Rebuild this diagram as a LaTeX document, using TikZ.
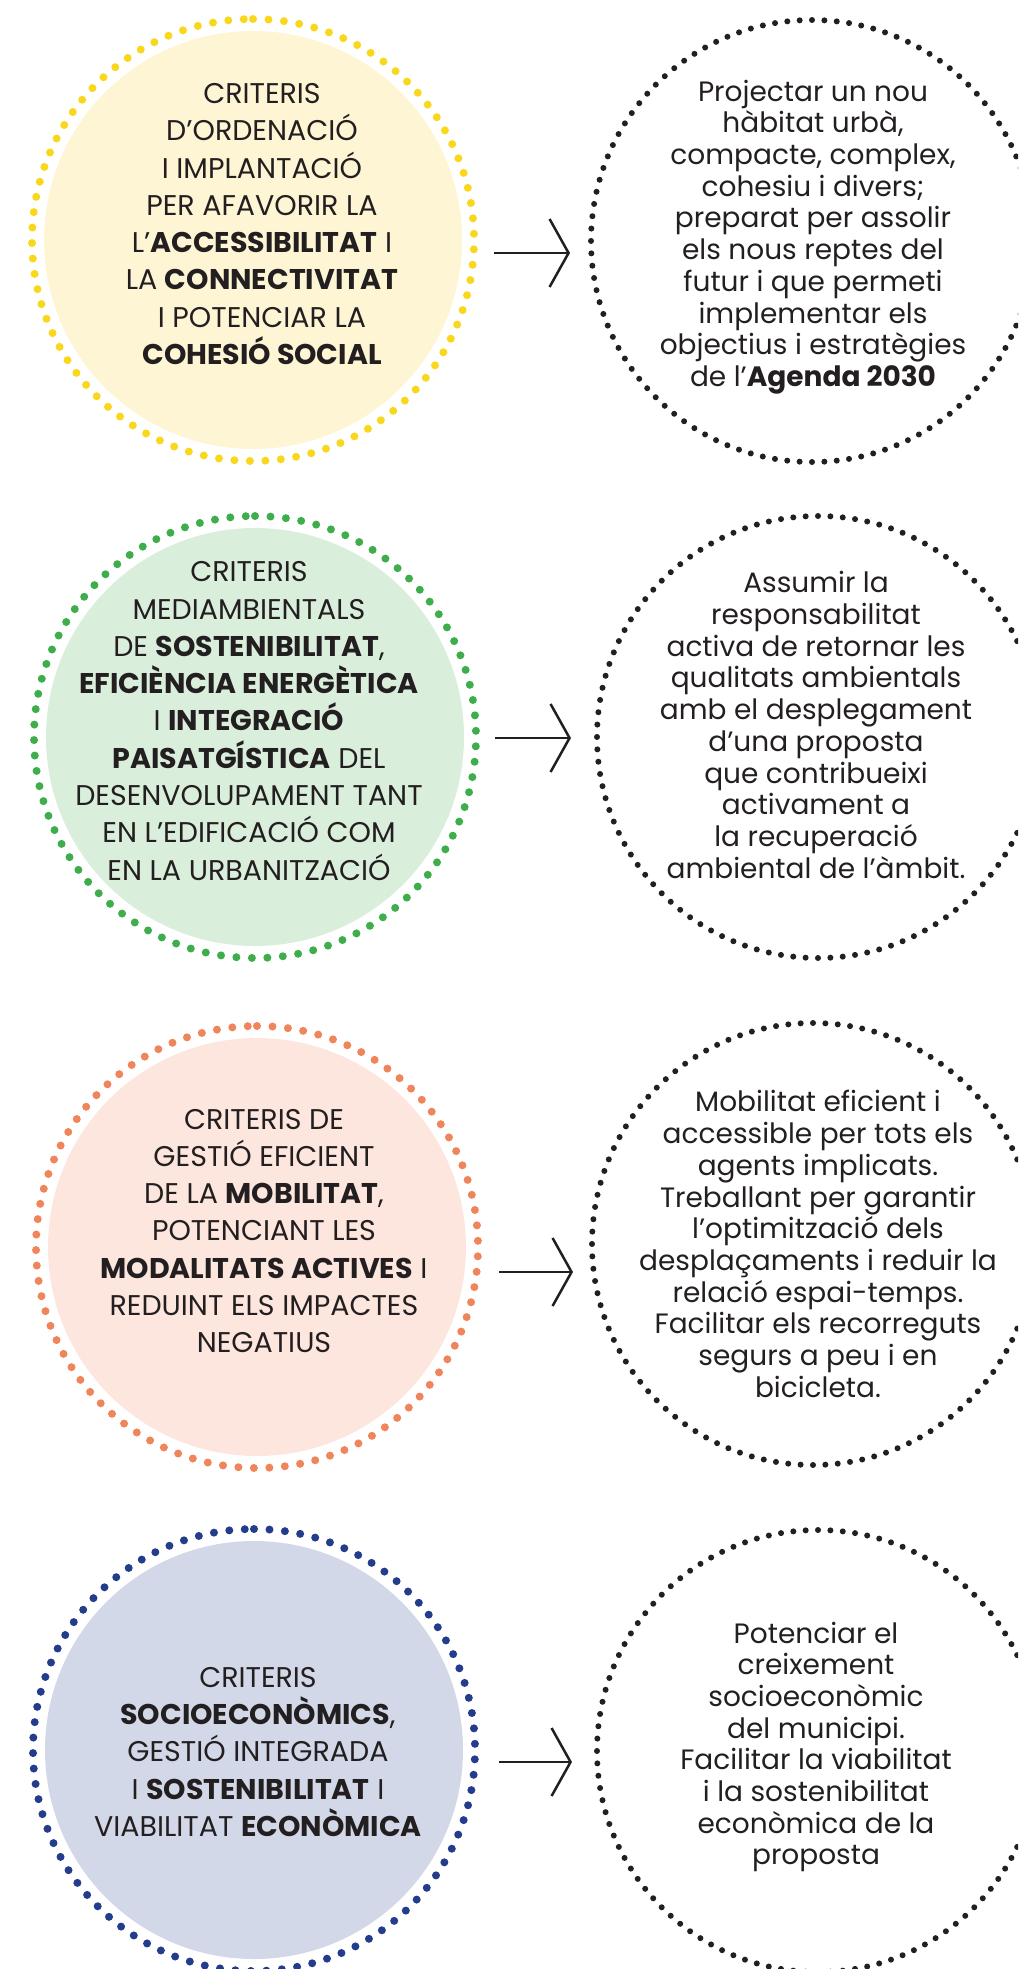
\documentclass[tikz,border=0pt]{standalone}
\usepackage{fontspec}
\setmainfont{Poppins}
\usetikzlibrary{arrows.meta}
\definecolor{ink}{HTML}{231F20}
\definecolor{yelDot}{HTML}{F9D71C}
\definecolor{yelFill}{HTML}{FDF5D4}
\definecolor{grnDot}{HTML}{3DAE4B}
\definecolor{grnFill}{HTML}{DAEEDC}
\definecolor{orgDot}{HTML}{F0845A}
\definecolor{orgFill}{HTML}{FCE6DE}
\definecolor{navDot}{HTML}{233C8C}
\definecolor{navFill}{HTML}{D3D8E8}
\tikzset{
  crit fill/.style={circle, fill=#1, minimum size=418pt, inner sep=0pt},
  dot ring/.style={draw=#1, line width=8pt, line cap=round,
    dash pattern=on 0pt off 15.5pt},
  obj ring/.style={draw=ink, line width=6pt, line cap=round,
    dash pattern=on 0pt off 12.4pt},
  crit text/.style={align=center, inner sep=0pt, text=ink,
    font=\fontsize{28.5}{37.3}\selectfont},
  obj text/.style={align=center, inner sep=0pt, text=ink,
    font=\fontsize{28}{31.7}\selectfont},
  link/.style={draw=ink, line width=2.5pt,
    -{Straight Barb[length=19pt, width=68pt]}}
}
\newcommand{\ring}[2]{\draw[#1] (#2) ++(0,-221) arc[start angle=90, end angle=-270, radius=221pt];}

\begin{document}
\begin{tikzpicture}[x=1pt, y=-1pt]
\useasboundingbox (0,0) rectangle (1018,1969);
\clip (0,0) rectangle (1018,1969);

% circles on the left
\node[crit fill=yelFill] (c1) at (253,240) {};
\node[crit fill=grnFill] (c2) at (255,737) {};
\node[crit fill=orgFill] (c3) at (257,1247) {};
\node[crit fill=navFill] (c4) at (254,1750) {};
\ring{dot ring=yelDot}{c1.center}
\ring{dot ring=grnDot}{c2.center}
\ring{dot ring=orgDot}{c3.center}
\ring{dot ring=navDot}{c4.center}

% circles on the right
\coordinate (o1) at (812,241);
\coordinate (o2) at (818,737);
\coordinate (o3) at (813,1244);
\coordinate (o4) at (818,1751);
\ring{obj ring}{o1}
\ring{obj ring}{o2}
\ring{obj ring}{o3}
\ring{obj ring}{o4}

% texts
\node[crit text] (t1) at (262,224) {CRITERIS\\D’ORDENACIÓ\\I IMPLANTACIÓ\\PER AFAVORIR LA\\
  L’\textbf{ACCESSIBILITAT} I\\LA \textbf{CONNECTIVITAT}\\I POTENCIAR LA\\\textbf{COHESIÓ SOCIAL}};
\node[obj text] (p1) at (813,237) {Projectar un nou\\hàbitat urbà,\\compacte, complex,\\
  cohesiu i divers;\\preparat per assolir\\els nous reptes del\\futur i que permeti\\
  implementar els\\objectius i estratègies\\de l’\textbf{Agenda 2030}};
\node[crit text] (t2) at (249,721) {CRITERIS\\MEDIAMBIENTALS\\DE \textbf{SOSTENIBILITAT},\\
  \textbf{EFICIÈNCIA ENERGÈTICA}\\I \textbf{INTEGRACIÓ}\\\textbf{PAISATGÍSTICA} DEL\\
  DESENVOLUPAMENT TANT\\EN L’EDIFICACIÓ COM\\EN LA URBANITZACIÓ};
\node[obj text] (p2) at (816,725) {Assumir la\\responsabilitat\\activa de retornar les\\
  qualitats ambientals\\amb el desplegament\\d’una proposta\\que contribueixi\\
  activament a\\la recuperació\\ambiental de l’àmbit.};
\node[crit text] (t3) at (264,1231) {CRITERIS DE\\GESTIÓ EFICIENT\\DE LA \textbf{MOBILITAT},\\
  POTENCIANT LES\\\textbf{MODALITATS ACTIVES} I\\REDUINT ELS IMPACTES\\NEGATIUS};
\node[obj text] (p3) at (818,1244) {Mobilitat eficient i\\accessible per tots els\\
  agents implicats.\\Treballant per garantir\\l’optimització dels\\desplaçaments i reduir la\\
  relació espai-temps.\\Facilitar els recorreguts\\segurs a peu i en\\bicicleta.};
\node[crit text] (t4) at (258,1752) {CRITERIS\\\textbf{SOCIOECONÒMICS},\\GESTIÓ INTEGRADA\\
  I \textbf{SOSTENIBILITAT} I\\VIABILITAT \textbf{ECONÒMICA}};
\node[obj text] (p4) at (816,1747) {Potenciar el\\creixement\\socioeconòmic\\del municipi.\\
  Facilitar la viabilitat\\i la sostenibilitat\\econòmica de la\\proposta};

% arrows
\coordinate (a1) at (494,253);  \coordinate (b1) at (570,253);
\coordinate (a2) at (495,738);  \coordinate (b2) at (571,738);
\coordinate (a3) at (499,1272); \coordinate (b3) at (573,1272);
\coordinate (a4) at (499,1762); \coordinate (b4) at (572,1762);
\draw[link] (a1) -- (b1);
\draw[link] (a2) -- (b2);
\draw[link] (a3) -- (b3);
\draw[link] (a4) -- (b4);
\end{tikzpicture}
\end{document}
